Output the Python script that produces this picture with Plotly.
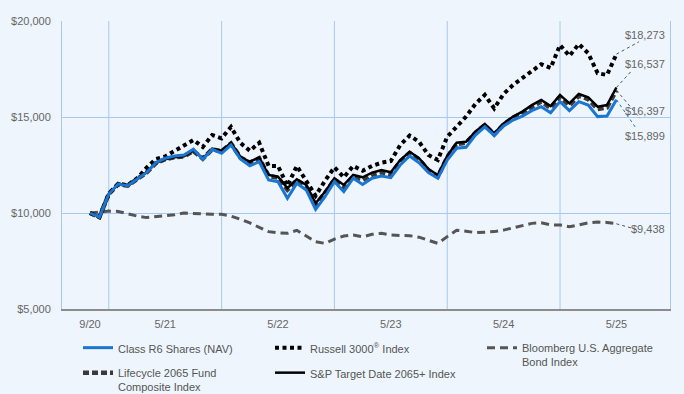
import pandas as pd
import plotly.graph_objects as go

# ---------------- data ----------------
months = [d.strftime("%-m/%y") for d in pd.date_range("2020-09-01", "2025-05-01", freq="MS")]
tick_labels = ["9/20", "5/21", "5/22", "5/23", "5/24", "5/25"]
grid_months = ["11/20", "11/21", "11/22", "11/23", "11/24"]

class_r6 = [10000, 9780, 10990, 11510, 11420, 11750, 12100, 12620, 12850, 12970, 13020, 13320,
            12800, 13320, 13110, 13540, 12810, 12460, 12670, 11720, 11630, 10770, 11550, 11200,
            10190, 10850, 11630, 11110, 11810, 11490, 11810, 11930, 11840, 12500, 12970, 12620,
            12100, 11810, 12760, 13370, 13420, 14060, 14490, 14040, 14530, 14840, 15050, 15330,
            15540, 15220, 15800, 15330, 15800, 15620, 15020, 15050, 15899]
russell = [10000, 9790, 11000, 11520, 11450, 11800, 12350, 12810, 12950, 13250, 13500, 13800,
           13440, 14060, 13890, 14480, 13650, 13240, 13660, 12450, 12450, 11410, 12450, 11650,
           10900, 11680, 12380, 11860, 12450, 12200, 12450, 12620, 12710, 13540, 14030, 13710,
           13020, 12760, 13970, 14490, 15020, 15680, 16150, 15450, 16200, 16670, 17020, 17400,
           17750, 17550, 18750, 18180, 18800, 18320, 17280, 17190, 18273]
bloomberg = [10000, 10050, 10100, 10080, 9950, 9840, 9760, 9810, 9840, 9910, 10000, 9980,
             9930, 9930, 9930, 9840, 9670, 9490, 9250, 9030, 8970, 8940, 9100, 8800,
             8500, 8420, 8640, 8800, 8850, 8760, 8890, 8940, 8860, 8830, 8820, 8740,
             8560, 8420, 8770, 9100, 9050, 8980, 9000, 9030, 9110, 9220, 9340, 9460,
             9490, 9380, 9380, 9290, 9380, 9490, 9530, 9510, 9438]
lifecycle = [10000, 9785, 10995, 11500, 11420, 11750, 12100, 12590, 12800, 12900, 12940, 13230,
             12830, 13320, 13210, 13620, 12890, 12620, 12850, 11930, 11840, 11220, 11700, 11380,
             10440, 11040, 11740, 11330, 11900, 11720, 11990, 12120, 12020, 12680, 13120, 12790,
             12220, 11900, 12900, 13600, 13650, 14170, 14580, 14090, 14610, 14950, 15200, 15530,
             15800, 15470, 16050, 15600, 16100, 15930, 15420, 15500, 16397]
sp_target = [10000, 9790, 11000, 11500, 11430, 11760, 12120, 12600, 12800, 12900, 12950, 13250,
             12850, 13350, 13250, 13660, 12930, 12670, 12900, 11980, 11890, 11290, 11760, 11460,
             10510, 11110, 11810, 11460, 11980, 11860, 12100, 12240, 12120, 12760, 13190, 12850,
             12290, 11980, 12970, 13660, 13710, 14230, 14640, 14150, 14670, 15020, 15280, 15620,
             15890, 15570, 16150, 15710, 16200, 16030, 15540, 15620, 16537]

# end-value labels: series, label y position (value units), connector end (x index, value), colour
end_labels = [
    (russell, 19270, 58.4, 18920, "#555555"),
    (sp_target, 17760, 57.7, 17450, "#555555"),
    (lifecycle, 15310, 58.5, 14940, "#555555"),
    (class_r6, 14010, 58.1, 14410, "#1a76d2"),
    (bloomberg, 9170, 58.1, 9150, "#555555"),
]

FONT = "Arial, Liberation Sans, sans-serif"
BG = "#eef5fc"
GRID = "#a9c8ee"

xi = list(range(len(months)))  # position of each month on the axis

fig = go.Figure()

fig.add_trace(go.Scatter(x=xi, y=bloomberg, mode="lines", name="Bloomberg U.S. Aggregate<br>Bond Index",
                         line=dict(color="#555555", width=3, dash="8px,5px"), legend="legend3",
                         legendgroup="bb"))
fig.add_trace(go.Scatter(x=xi, y=lifecycle, mode="lines", name="Lifecycle 2065 Fund<br>Composite Index",
                         line=dict(color="#3a3a3a", width=4.5, dash="6px,3px"), legend="legend", legendrank=2,
                         legendgroup="lc"))
fig.add_trace(go.Scatter(x=xi, y=sp_target, mode="lines", name="S&P Target Date 2065+ Index",
                         line=dict(color="#000000", width=2.5), legend="legend2", legendrank=2,
                         legendgroup="sp"))
fig.add_trace(go.Scatter(x=xi, y=russell, mode="lines", name="Russell 3000<sup>®</sup> Index",
                         line=dict(color="#000000", width=4, dash="4px,3.5px"), legend="legend2", legendrank=1,
                         legendgroup="ru"))
fig.add_trace(go.Scatter(x=xi, y=class_r6, mode="lines", name="Class R6 Shares (NAV)",
                         line=dict(color="#1a76d2", width=3), legend="legend", legendrank=1,
                         legendgroup="r6"))

shapes = []
for gm in grid_months:
    gx = months.index(gm)
    shapes.append(dict(type="line", xref="x", yref="paper", x0=gx, x1=gx, y0=0, y1=1,
                       line=dict(color=GRID, width=1), layer="below"))

annotations = []
last = xi[-1]
for series, ly, cx, cy, col in end_labels:
    shapes.append(dict(type="line", xref="x", yref="y", x0=last, y0=series[-1], x1=cx, y1=cy,
                       line=dict(color=col, width=1, dash="dot")))
    annotations.append(dict(xref="paper", yref="y", x=0.995, y=ly, xanchor="right", yanchor="middle",
                            text="${:,.0f}".format(series[-1]), showarrow=False,
                            font=dict(family=FONT, size=11, color="#666666")))

leg_common = dict(orientation="v", xref="container", yref="container", yanchor="top", xanchor="left",
                  bgcolor="rgba(0,0,0,0)", font=dict(family=FONT, size=11, color="#555555"),
                  valign="top", tracegroupgap=6, traceorder="grouped")

fig.update_layout(
    width=684, height=394, autosize=False,
    paper_bgcolor=BG, plot_bgcolor=BG,
    margin=dict(l=62, r=14, t=21, b=85, autoexpand=False),
    font=dict(family=FONT, size=11, color="#666666"),
    showlegend=True,
    legend=dict(x=78 / 684, y=1 - 334 / 394, **leg_common),
    legend2=dict(x=270 / 684, y=1 - 334 / 394, **leg_common),
    legend3=dict(x=482 / 684, y=1 - 334 / 394, **leg_common),
    shapes=shapes,
    annotations=annotations,
    xaxis=dict(range=[-2.98, 61.7], tickmode="array",
               tickvals=[months.index(t) for t in tick_labels], ticktext=tick_labels,
               showgrid=False, zeroline=False, showline=True, linecolor="#8c8c8c", linewidth=1.5,
               ticks="outside", ticklen=4, tickcolor="rgba(0,0,0,0)", automargin=False,
               tickfont=dict(family=FONT, size=11, color="#666666")),
    yaxis=dict(range=[5000, 20000], tickvals=[5000, 10000, 15000, 20000],
               ticktext=["$5,000", "$10,000", "$15,000", "$20,000"],
               showgrid=True, gridcolor=GRID, gridwidth=1, zeroline=False,
               showline=True, linecolor=GRID, mirror=True, automargin=False,
               ticks="outside", ticklen=8, tickcolor="rgba(0,0,0,0)",
               tickfont=dict(family=FONT, size=11, color="#666666")),
)

fig.write_html("out.html", config={"displayModeBar": False},
               post_script="document.body.style.margin='0';document.body.style.background='#eef5fc';")
